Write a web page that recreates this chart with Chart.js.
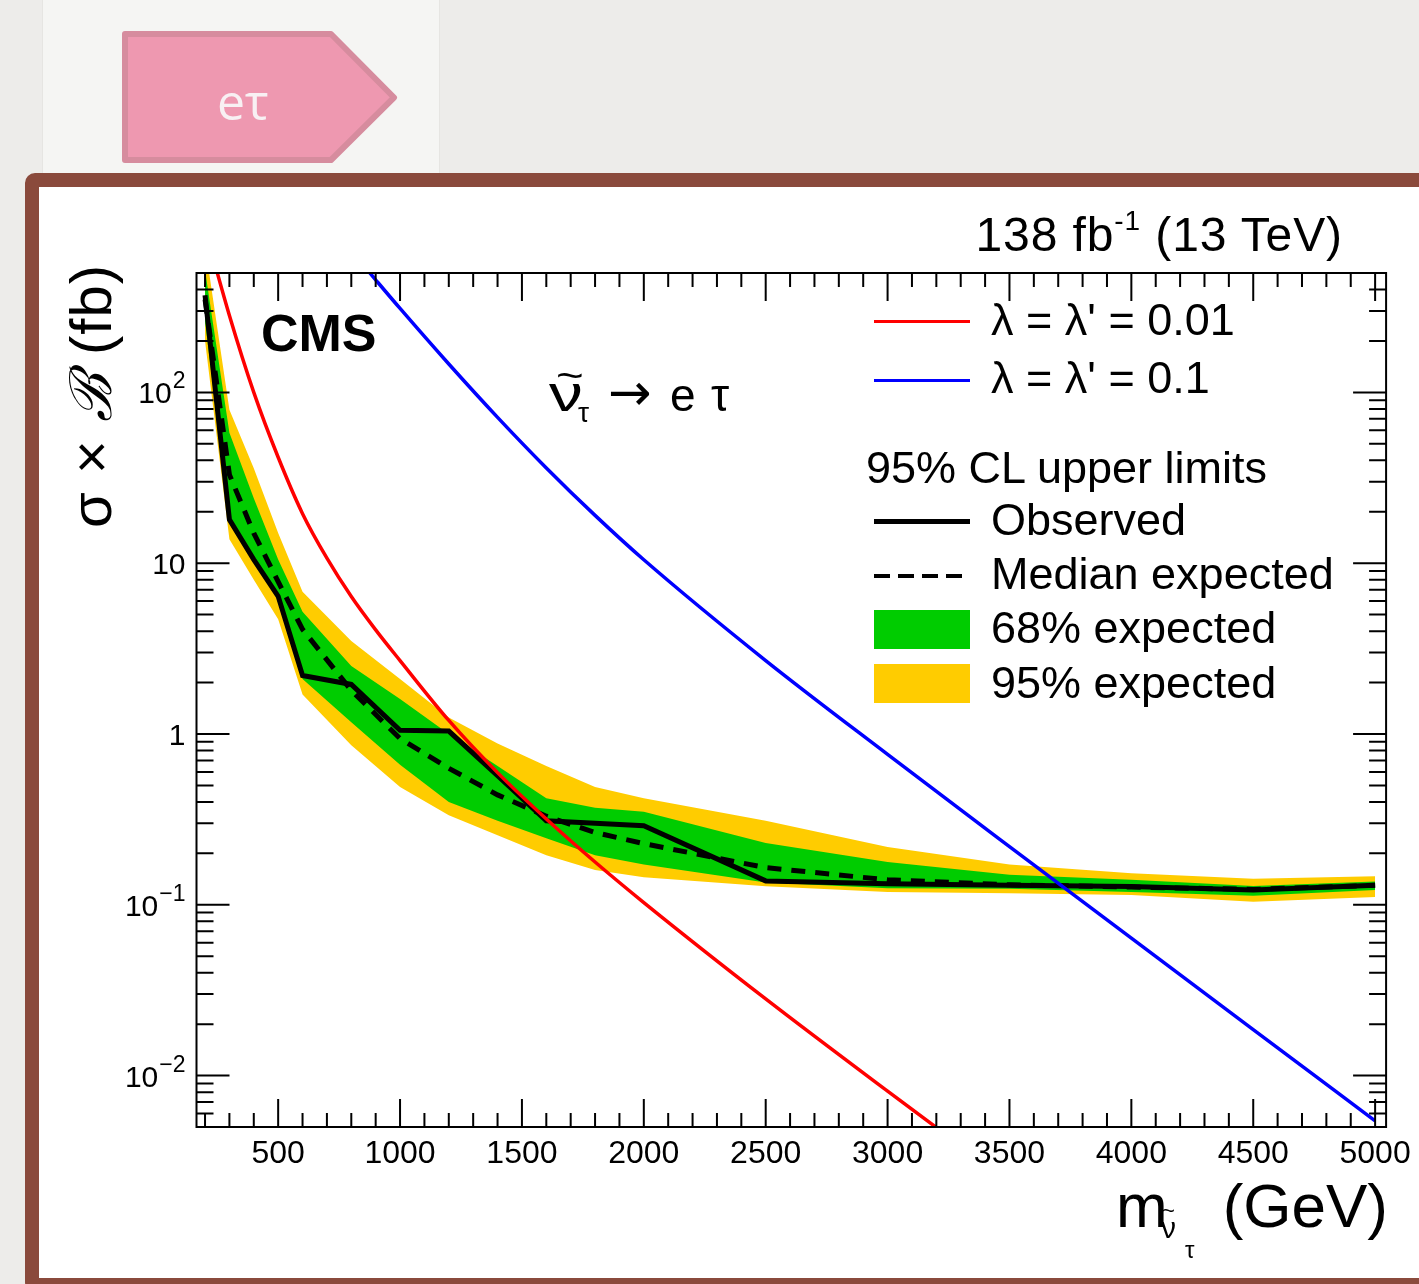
<!DOCTYPE html>
<html>
<head>
<meta charset="utf-8">
<script src="https://cdn.jsdelivr.net/npm/chart.js@4.4.0/dist/chart.umd.min.js"></script>
<style>
  html, body { margin: 0; padding: 0; }
  body {
    width: 1419px; height: 1284px; overflow: hidden; position: relative;
    background: #edecea;
    font-family: "Liberation Sans", Arial, sans-serif;
  }
  .panel {
    position: absolute; left: 42px; top: -10px; width: 396px; height: 200px;
    background: #f5f5f3; border: 1px solid #e6e5e2;
  }
  .card {
    position: absolute; left: 25px; top: 173px; width: 1440px; height: 1091px;
    border: 14px solid #8a4a3c; border-radius: 10px; background: #fff;
  }
  canvas { position: absolute; left: 40px; top: 185px; }
  .t { position: absolute; line-height: 1; white-space: nowrap; color: #000; }
  .sw { position: absolute; }
</style>
</head>
<body>
<div class="panel"></div>
<svg style="position:absolute;left:0;top:0" width="420" height="180">
  <polygon points="125,34 331,34 394,97.5 331,160 125,160" fill="#ee98b0" stroke="#d68c9e" stroke-width="6" stroke-linejoin="round"/>
</svg>
<div class="t" style="left:217px;top:76px;font:50px 'Open Sans',sans-serif;line-height:1;color:#f8f0f3">eτ</div>

<div class="card"></div>
<canvas id="limits" width="1379" height="1087"></canvas>

<!-- header texts -->
<div class="t" style="right:76px;top:211px;font-size:48px;letter-spacing:0.9px">138 fb<sup style="font-size:28px;position:relative;top:-4px;vertical-align:top">-1</sup> (13 TeV)</div>
<div class="t" style="left:261px;top:307px;font-size:52px;font-weight:bold">CMS</div>
<div class="t" style="left:549px;top:367px;font-size:52px;transform-origin:0 0;transform:scaleX(1.3)">ν</div>
<div class="t" style="left:556px;top:357px;font-size:38px;transform-origin:0 0;transform:scaleX(1.25)">~</div>
<div class="t" style="left:578px;top:399px;font-size:28px">τ</div>
<div class="t" style="left:608px;top:366px;font-size:52px;font-family:'DejaVu Sans',sans-serif">→</div>
<div class="t" style="left:670px;top:372px;font-size:46px">e</div>
<div class="t" style="left:711px;top:372px;font-size:46px">τ</div>

<!-- legend -->
<div class="sw" style="left:874px;top:320px;width:96px;height:3px;background:#ff0000"></div>
<div class="sw" style="left:874px;top:379px;width:96px;height:3px;background:#0000ff"></div>
<div class="sw" style="left:874px;top:519px;width:96px;height:5px;background:#000"></div>
<div class="sw" style="left:874px;top:574px;width:88px;height:4px;background:repeating-linear-gradient(90deg,#000 0 16px,transparent 16px 24px)"></div>
<div class="sw" style="left:874px;top:610px;width:96px;height:39px;background:#00cc00"></div>
<div class="sw" style="left:874px;top:664px;width:96px;height:39px;background:#ffcc00"></div>
<div class="t" style="left:991px;top:297px;font-size:45px">λ = λ' = 0.01</div>
<div class="t" style="left:991px;top:355px;font-size:45px">λ = λ' = 0.1</div>
<div class="t" style="left:866px;top:445px;font-size:45px">95% CL upper limits</div>
<div class="t" style="left:991px;top:497px;font-size:45px">Observed</div>
<div class="t" style="left:991px;top:551px;font-size:45px">Median expected</div>
<div class="t" style="left:991px;top:605px;font-size:45px">68% expected</div>
<div class="t" style="left:991px;top:660px;font-size:45px">95% expected</div>

<!-- axis titles -->
<div class="t" style="left:62px;top:528px;font-size:58px;letter-spacing:1px;transform-origin:0 0;transform:rotate(-90deg)">σ × <span style="font-family:'DejaVu Serif',serif;font-style:italic">ℬ</span> (fb)</div>
<div class="t" style="left:1116px;top:1175px;font-size:62px">m</div>
<div class="t" style="left:1161px;top:1213px;font-size:30px">ν</div>
<div class="t" style="left:1162px;top:1200px;font-size:22px">~</div>
<div class="t" style="left:1185px;top:1238px;font-size:24px">τ</div>
<div class="t" style="right:31px;top:1175px;font-size:62px">(GeV)</div>

<script>
// limit scan points (GeV) and 95% CL upper limits on sigma x B (fb)
const massPoints = [200, 300, 400, 500, 600, 800, 1000, 1200, 1400, 1600, 1800, 2000, 2500, 3000, 3500, 4000, 4500, 5000];
const observed  = [370, 18, 10.5, 6.4, 2.2, 1.95, 1.05, 1.04, 0.57, 0.31, 0.30, 0.29, 0.138, 0.133, 0.130, 0.128, 0.122, 0.130];
const expected  = [350, 33, 15, 7.8, 4.1, 1.8, 0.94, 0.63, 0.44, 0.33, 0.265, 0.228, 0.165, 0.140, 0.131, 0.127, 0.123, 0.130];
const band68Up  = [520, 58, 24, 10.5, 5.2, 2.5, 1.6, 1.0, 0.65, 0.42, 0.37, 0.35, 0.23, 0.178, 0.150, 0.140, 0.129, 0.137];
const band68Lo  = [260, 17.5, 10.4, 6.3, 2.1, 1.17, 0.66, 0.40, 0.31, 0.245, 0.195, 0.172, 0.135, 0.125, 0.124, 0.119, 0.113, 0.122];
const band95Up  = [730, 79, 36, 15, 6.8, 3.5, 2.1, 1.25, 0.88, 0.65, 0.49, 0.42, 0.31, 0.218, 0.172, 0.153, 0.142, 0.147];
const band95Lo  = [200, 13.8, 8.0, 4.7, 1.7, 0.86, 0.49, 0.334, 0.255, 0.195, 0.16, 0.145, 0.1285, 0.119, 0.117, 0.114, 0.104, 0.111];

// theory predictions
const massTheoryLo = [200, 300, 400, 500, 600, 700, 800, 900, 1000, 1200, 1400, 1600, 1800, 2000, 2500, 3000, 3500, 4000];
const theory001    = [912, 282, 100, 41.7, 19.5, 10.7, 6.38, 4.07, 2.69, 1.2, 0.594, 0.318, 0.178, 0.103, 0.0281, 0.0081, 0.00239, 0.0007];
const massTheoryHi = [800, 900, 1000, 1200, 1400, 1600, 1800, 2000, 2500, 3000, 3500, 4000, 4500, 5000];
const theory01     = [674, 456, 310, 146.6, 71.4, 36.1, 19.05, 10.47, 2.69, 0.759, 0.219, 0.0638, 0.0186, 0.00543];

const xTicks = [500, 1000, 1500, 2000, 2500, 3000, 3500, 4000, 4500, 5000];
const yTicks = [0.01, 0.1, 1, 10, 100];
const yTickBase = ["10", "10", "1", "10", "10"];
const yTickExp = ["−2", "−1", "", "", "2"];

const pts = (xs, ys) => xs.map((m, i) => ({ x: m, y: ys[i] }));
const noPts = { pointRadius: 0, pointHoverRadius: 0 };
const FONT = "'Liberation Sans', Arial, sans-serif";

// ROOT-style frame with inward ticks on all four sides, plus the y labels with exponents
const frameTicks = {
  id: "frameTicks",
  afterDatasetsDraw(chart) {
    const { ctx, chartArea: a, scales: { x, y } } = chart;
    ctx.save();
    ctx.strokeStyle = "#000";
    ctx.lineWidth = 2;
    ctx.beginPath();
    for (let m = 200; m <= 5000; m += 100) {
      const px = x.getPixelForValue(m);
      const len = m % 500 === 0 ? 28 : 14;
      ctx.moveTo(px, a.bottom); ctx.lineTo(px, a.bottom - len);
      ctx.moveTo(px, a.top); ctx.lineTo(px, a.top + len);
    }
    for (let e = -3; e <= 2; e++) {
      for (let k = 1; k <= 9; k++) {
        const v = k * Math.pow(10, e);
        if (v < 0.005 * 0.999 || v > 500 * 1.001) continue;
        const py = y.getPixelForValue(v);
        const len = k === 1 ? 33 : 17;
        ctx.moveTo(a.left, py); ctx.lineTo(a.left + len, py);
        ctx.moveTo(a.right, py); ctx.lineTo(a.right - len, py);
      }
    }
    ctx.stroke();
    ctx.strokeRect(a.left, a.top, a.right - a.left, a.bottom - a.top);

    ctx.fillStyle = "#000";
    ctx.textBaseline = "alphabetic";
    ctx.textAlign = "left";
    yTicks.forEach((v, i) => {
      const py = y.getPixelForValue(v);
      ctx.font = "23px " + FONT;
      const ew = yTickExp[i] ? ctx.measureText(yTickExp[i]).width : 0;
      ctx.font = "30px " + FONT;
      const bw = ctx.measureText(yTickBase[i]).width;
      const right = a.left - 11;
      const x0 = right - ew - bw - (ew ? 1 : 0);
      ctx.fillText(yTickBase[i], x0, py + 11);
      if (ew) {
        ctx.font = "23px " + FONT;
        ctx.fillText(yTickExp[i], x0 + bw + 1, py - 4);
      }
    });
    ctx.restore();
  },
};

new Chart(document.getElementById("limits"), {
  type: "line",
  data: {
    datasets: [
      { data: pts(massPoints, band95Up), fill: 1, backgroundColor: "#ffcc00", borderWidth: 0, order: 10, ...noPts },
      { data: pts(massPoints, band95Lo), fill: false, borderWidth: 0, order: 9, ...noPts },
      { data: pts(massPoints, band68Up), fill: 3, backgroundColor: "#00cc00", borderWidth: 0, order: 8, ...noPts },
      { data: pts(massPoints, band68Lo), fill: false, borderWidth: 0, order: 7, ...noPts },
      { data: pts(massPoints, expected), borderColor: "#000", borderWidth: 5, borderDash: [14, 10], fill: false, order: 4, ...noPts },
      { data: pts(massPoints, observed), borderColor: "#000", borderWidth: 5, fill: false, order: 3, ...noPts },
      { data: pts(massTheoryHi, theory01), borderColor: "#0000ff", borderWidth: 3.5, cubicInterpolationMode: "monotone", fill: false, order: 2, ...noPts },
      { data: pts(massTheoryLo, theory001), borderColor: "#ff0000", borderWidth: 3.5, cubicInterpolationMode: "monotone", fill: false, order: 1, ...noPts },
    ],
  },
  options: {
    responsive: false,
    animation: false,
    devicePixelRatio: 1,
    layout: { padding: { top: 88, right: 31, left: 0, bottom: 0 } },
    plugins: { legend: { display: false }, tooltip: { enabled: false } },
    scales: {
      x: {
        type: "linear",
        min: 165,
        max: 5045,
        grid: { display: false, drawTicks: false },
        border: { display: false },
        afterFit: (s) => { s.height = 145; },
        afterBuildTicks: (s) => { s.ticks = xTicks.map((v) => ({ value: v })); },
        ticks: {
          color: "#000",
          padding: 8,
          maxRotation: 0,
          autoSkip: false,
          font: { family: FONT, size: 32 },
          callback: (v) => String(v),
        },
      },
      y: {
        type: "logarithmic",
        min: 0.005,
        max: 500,
        grid: { display: false, drawTicks: false },
        border: { display: false },
        afterFit: (s) => { s.width = 156.5; },
        afterBuildTicks: (s) => { s.ticks = yTicks.map((v) => ({ value: v })); },
        ticks: { display: false },
      },
    },
  },
  plugins: [frameTicks],
});
</script>
</body>
</html>
